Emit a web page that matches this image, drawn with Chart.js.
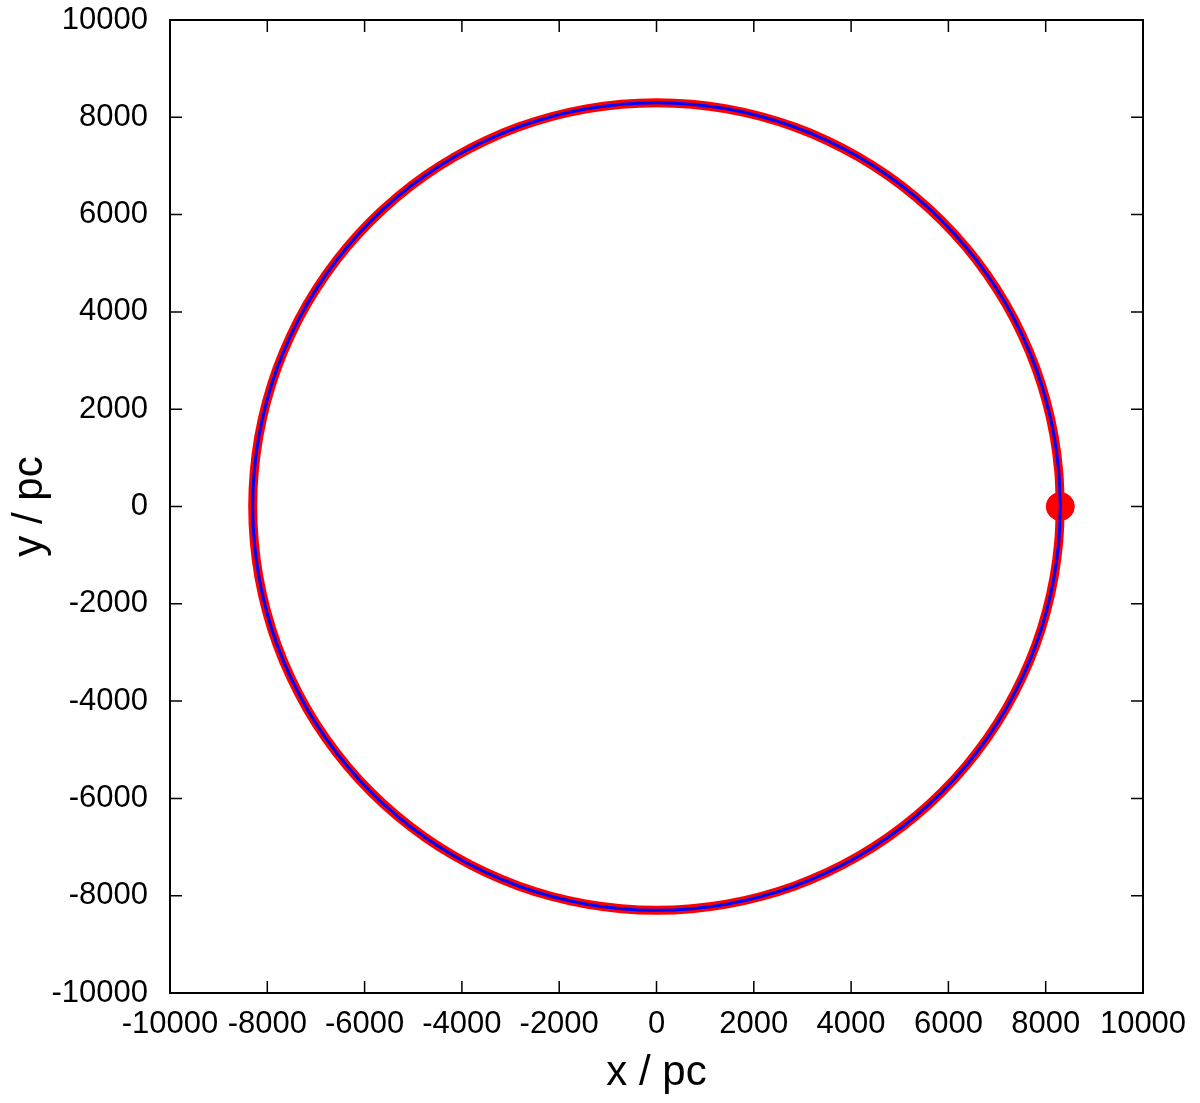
<!DOCTYPE html>
<html>
<head>
<meta charset="utf-8">
<script src="https://cdn.jsdelivr.net/npm/chart.js@4/dist/chart.umd.min.js"></script>
<style>
  body { margin: 0; background: #fff; }
  #wrap { width: 1200px; height: 1103px; position: relative; }
</style>
</head>
<body>
<div id="wrap"><canvas id="orbitChart"></canvas></div>
<script>
// orbit, every 5 degrees, R ~ 8300 pc
var orbit_x = [8300, 8268, 8174, 8017, 7800, 7522, 7188, 6799, 6358, 5869,
    5335, 4761, 4150, 3508, 2839, 2148, 1441, 723, 0,
    -723, -1441, -2148, -2839, -3508, -4150, -4761, -5335, -5869,
    -6358, -6799, -7188, -7522, -7800, -8017, -8174, -8268, -8300,
    -8268, -8174, -8017, -7800, -7522, -7188, -6799, -6358, -5869,
    -5335, -4761, -4150, -3508, -2839, -2148, -1441, -723, 0,
    723, 1441, 2148, 2839, 3508, 4150, 4761, 5335, 5869,
    6358, 6799, 7188, 7522, 7800, 8017, 8174, 8268, 8300];
var orbit_y = [0, 723, 1441, 2148, 2839, 3508, 4150, 4761, 5335, 5869,
    6358, 6799, 7188, 7522, 7800, 8017, 8174, 8268, 8300,
    8268, 8174, 8017, 7800, 7522, 7188, 6799, 6358, 5869,
    5335, 4761, 4150, 3508, 2839, 2148, 1441, 723, 0,
    -723, -1441, -2148, -2839, -3508, -4150, -4761, -5335, -5869,
    -6358, -6799, -7188, -7522, -7800, -8017, -8174, -8268, -8300,
    -8268, -8174, -8017, -7800, -7522, -7188, -6799, -6358, -5869,
    -5335, -4761, -4150, -3508, -2839, -2148, -1441, -723, 0];
var start_x = [8300];
var start_y = [0];
var tick_values = [-10000, -8000, -6000, -4000, -2000, 0, 2000, 4000, 6000, 8000, 10000];

function toPoints(xs, ys) {
    var pts = [];
    for (var i = 0; i < xs.length; i++) pts.push({x: xs[i], y: ys[i]});
    return pts;
}

// gnuplot style: box + inward ticks on all four sides
var frameTicks = {
    id: 'frameTicks',
    afterDraw: function(chart) {
        var ctx = chart.ctx;
        var a = chart.chartArea;
        var sx = chart.scales.x, sy = chart.scales.y;
        var len = 12;
        ctx.save();
        ctx.strokeStyle = '#000';
        ctx.lineWidth = 1.5;
        tick_values.forEach(function(v) {
            if (v == -10000 || v == 10000) return;
            var px = sx.getPixelForValue(v);
            var py = sy.getPixelForValue(v);
            ctx.beginPath();
            ctx.moveTo(px, a.bottom); ctx.lineTo(px, a.bottom - len);
            ctx.moveTo(px, a.top); ctx.lineTo(px, a.top + len);
            ctx.moveTo(a.left, py); ctx.lineTo(a.left + len, py);
            ctx.moveTo(a.right, py); ctx.lineTo(a.right - len, py);
            ctx.stroke();
        });
        ctx.lineWidth = 2;
        ctx.strokeRect(a.left, a.top, a.right - a.left, a.bottom - a.top);
        ctx.restore();
    }
};

var plainTick = function(value) { return String(value); };

var orbit_chart = document.getElementById('orbitChart');
var orbitChart = new Chart(orbit_chart, {
    type: 'line',
    data: {
        datasets: [{
            label: 'orbit (blue)',
            data: toPoints(orbit_x, orbit_y),
            borderColor: 'rgb(0, 0, 255)',
            borderWidth: 3,
            pointRadius: 0,
            tension: 0.4,
            order: 0,
        },
        {
            label: 'start',
            data: toPoints(start_x, start_y),
            showLine: false,
            backgroundColor: 'rgb(255, 0, 0)',
            borderColor: 'rgb(255, 0, 0)',
            pointRadius: 14,
            order: 1,
        },
        {
            label: 'orbit (red)',
            data: toPoints(orbit_x, orbit_y),
            borderColor: 'rgb(255, 0, 0)',
            borderWidth: 9,
            pointRadius: 0,
            tension: 0.4,
            order: 2,
        }]
    },
    options: {
        responsive: true,
        maintainAspectRatio: false,
        animation: false,
        layout: {
            padding: { top: 20, right: 57, left: 0, bottom: 0 }
        },
        plugins: {
            legend: { display: false },
            tooltip: { enabled: false },
        },
        scales: {
            x: {
                type: 'linear',
                min: -10000,
                max: 10000,
                afterFit: function(scale) {
                    scale.height = 110;
                    scale.paddingLeft = 0;
                    scale.paddingRight = 0;
                },
                afterBuildTicks: function(scale) {
                    scale.ticks = tick_values.map(function(v) { return {value: v}; });
                },
                grid: { display: false, drawTicks: false },
                border: { display: false },
                ticks: {
                    color: '#000',
                    padding: 13,
                    maxRotation: 0,
                    autoSkip: false,
                    callback: plainTick,
                    font: { family: 'Liberation Sans', size: 31 },
                },
                title: {
                    display: true,
                    text: 'x / pc',
                    color: '#000',
                    padding: { top: 0, bottom: 4 },
                    font: { family: 'Liberation Sans', size: 42 },
                }
            },
            y: {
                type: 'linear',
                min: -10000,
                max: 10000,
                afterFit: function(scale) {
                    scale.width = 170;
                    scale.paddingTop = 0;
                    scale.paddingBottom = 0;
                },
                afterBuildTicks: function(scale) {
                    scale.ticks = tick_values.map(function(v) { return {value: v}; });
                },
                grid: { display: false, drawTicks: false },
                border: { display: false },
                ticks: {
                    color: '#000',
                    padding: 22,
                    autoSkip: false,
                    callback: plainTick,
                    font: { family: 'Liberation Sans', size: 31 },
                },
                title: {
                    display: true,
                    text: 'y / pc',
                    color: '#000',
                    padding: { top: 5, bottom: 0 },
                    font: { family: 'Liberation Sans', size: 42 },
                }
            }
        }
    },
    plugins: [frameTicks]
});
</script>
</body>
</html>
